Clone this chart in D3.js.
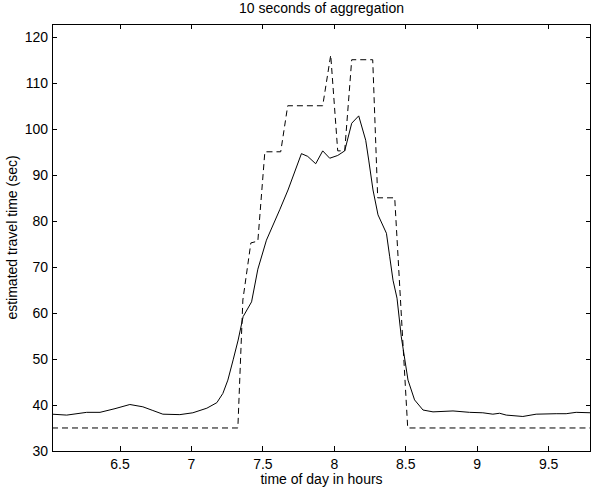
<!DOCTYPE html>
<html>
<head>
<meta charset="utf-8">
<script src="https://cdn.jsdelivr.net/npm/d3@7"></script>
<style>
  body { margin: 0; background: #fff; }
  svg text { font-family: "Liberation Sans", Arial, Helvetica, sans-serif; }
</style>
</head>
<body>
<div id="chart"></div>
<script>
/// DATA

// solid line: estimated travel time (sec) against time of day (hours)
const estHours = [6.027, 6.13, 6.27, 6.363, 6.468, 6.572, 6.663, 6.733, 6.803, 6.922,
  7.013, 7.111, 7.181, 7.223, 7.258, 7.295, 7.33, 7.365, 7.424, 7.468,
  7.528, 7.621, 7.679, 7.773, 7.817, 7.873, 7.922, 7.971, 8.027, 8.076,
  8.125, 8.174, 8.223, 8.244, 8.274, 8.309, 8.368, 8.391, 8.414, 8.442,
  8.472, 8.519, 8.565, 8.624, 8.694, 8.834, 8.95, 9.043, 9.113, 9.16,
  9.207, 9.323, 9.416, 9.556, 9.626, 9.696, 9.8]
const estTravel = [38.0, 37.8, 38.4, 38.4, 39.2, 40.1, 39.6, 38.8, 38.0, 37.9,
  38.3, 39.3, 40.5, 42.5, 45.4, 49.8, 54.1, 59.2, 62.4, 69.5,
  75.8, 82.4, 86.7, 94.6, 94.0, 92.4, 95.2, 93.6, 94.2, 95.2,
  101.2, 102.8, 97.5, 93.2, 86.7, 81.3, 77.3, 72.2, 67.1, 63.2,
  54.8, 45.4, 41.1, 38.9, 38.5, 38.7, 38.4, 38.3, 38.0, 38.2,
  37.8, 37.5, 38.0, 38.1, 38.1, 38.4, 38.3]

// dashed line: reference travel time
const refHours = [6.027, 7.328, 7.363, 7.419, 7.468, 7.517, 7.628, 7.677, 7.922, 7.978,
  8.027, 8.076, 8.125, 8.272, 8.307, 8.426, 8.517, 9.8]
const refTravel = [35, 35, 62.8, 75.2, 75.6, 95, 95, 105, 105, 116,
  95.2, 95.2, 115, 115, 85, 85, 35, 35]

const xTicks = [6.5, 7, 7.5, 8, 8.5, 9, 9.5]
const yTicks = [30, 40, 50, 60, 70, 80, 90, 100, 110, 120]

const estimated = estHours.map((h, i) => ({ hour: h, sec: estTravel[i] }))
const reference = refHours.map((h, i) => ({ hour: h, sec: refTravel[i] }))

/// LAYOUT

const width = 592
const height = 490
const margins = { top: 24, right: 1, bottom: 39, left: 52 }
const fontSize = "14px"

const xScale = d3
  .scaleLinear()
  .domain([6.027, 9.8])
  .range([margins.left, width - margins.right])

const yScale = d3
  .scaleLinear()
  .domain([30, 122.76])
  .range([height - margins.bottom, margins.top])

const svg = d3
  .select("#chart")
  .append("svg")
  .attr("width", width)
  .attr("height", height)
  .attr("viewBox", [0, 0, width, height])

const bounds = svg.append("g")

// clip so the lines stay inside the axes box
svg
  .append("clipPath")
  .attr("id", "clip")
  .append("rect")
  .attr("x", margins.left)
  .attr("y", margins.top)
  .attr("width", width - margins.right - margins.left)
  .attr("height", height - margins.bottom - margins.top)

/// LINES

const lineGenerator = d3
  .line()
  .x((d) => xScale(d.hour))
  .y((d) => yScale(d.sec))

bounds
  .append("path")
  .datum(reference)
  .attr("d", lineGenerator)
  .attr("fill", "none")
  .attr("stroke", "#000")
  .attr("stroke-width", 1)
  .attr("stroke-dasharray", "6,4")
  .attr("clip-path", "url(#clip)")

bounds
  .append("path")
  .datum(estimated)
  .attr("d", lineGenerator)
  .attr("fill", "none")
  .attr("stroke", "#000")
  .attr("stroke-width", 1)
  .attr("clip-path", "url(#clip)")

/// AXES (ticks inside, box on all sides)

const styleAxis = (g) => {
  g.select(".domain").remove()
  g.selectAll("line").attr("stroke", "#000").attr("shape-rendering", "crispEdges")
  g.selectAll("text").style("font-size", fontSize).attr("fill", "#000")
}

bounds
  .append("g")
  .attr("transform", `translate(0,${height - margins.bottom})`)
  .call(d3.axisBottom(xScale).tickValues(xTicks).tickFormat(d3.format("~g")).tickSizeInner(-5).tickSizeOuter(0).tickPadding(8))
  .call(styleAxis)

bounds
  .append("g")
  .attr("transform", `translate(0,${margins.top})`)
  .call(d3.axisTop(xScale).tickValues(xTicks).tickFormat("").tickSizeInner(-5).tickSizeOuter(0))
  .call(styleAxis)

bounds
  .append("g")
  .attr("transform", `translate(${margins.left},0)`)
  .call(d3.axisLeft(yScale).tickValues(yTicks).tickSizeInner(-5).tickSizeOuter(0).tickPadding(4))
  .call(styleAxis)

bounds
  .append("g")
  .attr("transform", `translate(${width - margins.right},0)`)
  .call(d3.axisRight(yScale).tickValues(yTicks).tickFormat("").tickSizeInner(-5).tickSizeOuter(0))
  .call(styleAxis)

bounds
  .append("rect")
  .attr("x", margins.left + 0.5)
  .attr("y", margins.top + 0.5)
  .attr("width", width - margins.right - margins.left - 1)
  .attr("height", height - margins.bottom - margins.top)
  .attr("fill", "none")
  .attr("stroke", "#000")
  .attr("stroke-width", 1)

/// TEXT

const centerX = (margins.left + width - margins.right) / 2

svg
  .append("text")
  .attr("x", centerX)
  .attr("y", 13)
  .attr("text-anchor", "middle")
  .style("font-size", fontSize)
  .text("10 seconds of aggregation")

svg
  .append("text")
  .attr("x", centerX)
  .attr("y", 484)
  .attr("text-anchor", "middle")
  .style("font-size", fontSize)
  .text("time of day in hours")

svg
  .append("text")
  .attr("transform", `translate(17,${(margins.top + height - margins.bottom) / 2}) rotate(-90)`)
  .attr("text-anchor", "middle")
  .style("font-size", fontSize)
  .text("estimated travel time (sec)")
</script>
</body>
</html>
